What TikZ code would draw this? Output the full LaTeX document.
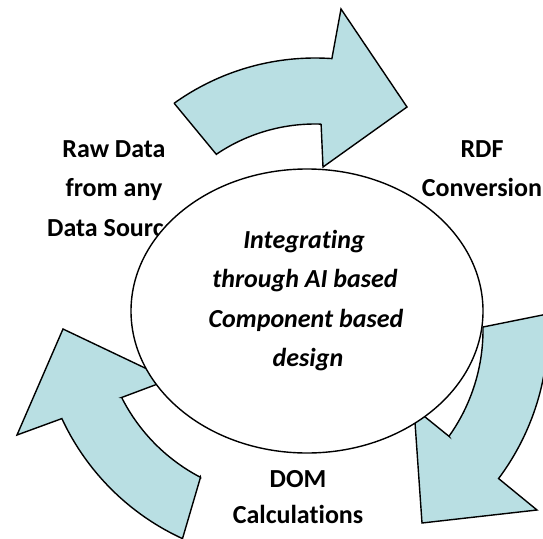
\documentclass[tikz,border=0pt]{standalone}
\usepackage{fontspec}
\setmainfont{Carlito}[Ligatures={NoCommon}]
\usetikzlibrary{shapes.geometric}
\definecolor{arrowfill}{RGB}{185,223,227}
\tikzset{
  arr/.style={fill=arrowfill, draw=black, line width=1.4pt, line join=miter},
  lbl/.style={font=\fontsize{26}{31}\selectfont\bfseries, anchor=base, inner sep=0pt},
  midtxt/.style={font=\fontsize{26}{31}\selectfont\bfseries\itshape, anchor=base, inner sep=0pt},
  hubstyle/.style={ellipse, draw=black, fill=white, line width=1.4pt, minimum width=352pt, minimum height=284pt, inner sep=0pt},
}
\begin{document}
\begin{tikzpicture}[x=1pt, y=-1pt]
\useasboundingbox (0,0) rectangle (543,538);
\clip (0,0) rectangle (543,538);
% top arrow, centre (315,300)
\draw[arr] (216.3,154.3) -- (174.1,103.2)
  -- plot[domain=-125.6:-86, samples=40, variable=\t] ({315+242*cos(\t)},{300+242*sin(\t)})
  -- (341,9) -- (407,107) -- (323,167) -- (321.1,124.1)
  -- plot[domain=-88:-124.1, samples=40, variable=\t] ({315+176*cos(\t)},{300+176*sin(\t)})
  -- cycle;
% right arrow, centre (300,330)
\draw[arr] (483,327) -- (547.5,314)
  -- plot[domain=-3.7:36.8, samples=40, variable=\t] ({300+248*cos(\t)},{330+248*sin(\t)})
  -- (537,510) -- (422,523) -- (414,408) -- (449,436.3)
  -- plot[domain=35.5:-0.94, samples=40, variable=\t] ({300+183*cos(\t)},{330+183*sin(\t)})
  -- cycle;
% left arrow, centre (285,315)
\draw[arr] (200.5,477.3) -- (182.5,538.6)
  -- plot[domain=114.6:155.1, samples=40, variable=\t] ({285+246*cos(\t)},{315+246*sin(\t)})
  -- (17,435) -- (63,329) -- (169.4,379.6) -- (121.6,397.5)
  -- plot[domain=153.2:117.5, samples=40, variable=\t] ({285+183*cos(\t)},{315+183*sin(\t)})
  -- cycle;
% labels
\node[lbl] (raw1) at (114,157) {Raw Data};
\node[lbl] (raw2) at (114,196) {from any};
\node[lbl] (raw3) at (112,236) {Data Source};
\node[lbl] (rdf1) at (482,157) {RDF};
\node[lbl] (rdf2) at (482,196) {Conversion};
\node[lbl] (dom1) at (298,487) {DOM};
\node[lbl] (dom2) at (298,523) {Calculations};
% hub
\node[hubstyle] (hub) at (307,311) {};
\node[midtxt] (m1) at (304,248) {Integrating};
\node[midtxt] (m2) at (305,287) {through AI based};
\node[midtxt] (m3) at (306,327) {Component based};
\node[midtxt] (m4) at (308,366) {design};
\end{tikzpicture}
\end{document}
